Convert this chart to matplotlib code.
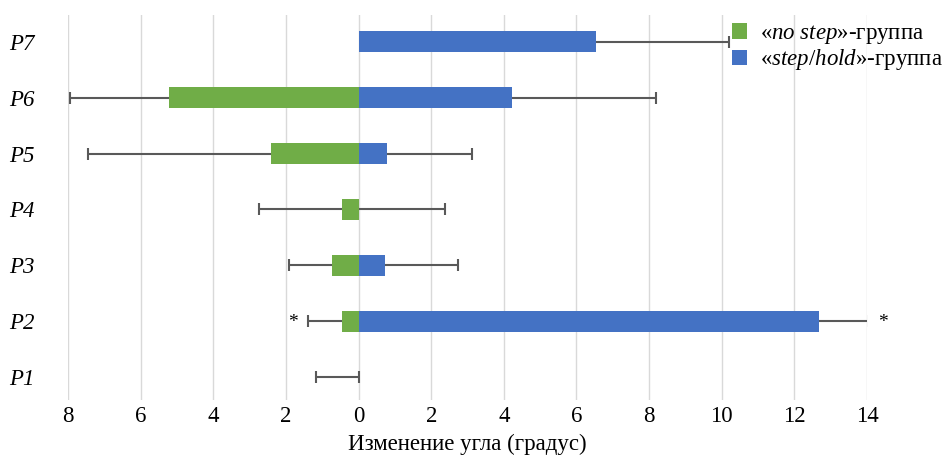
import matplotlib.pyplot as plt
import numpy as np

plt.rcParams['font.family'] = ['Liberation Serif', 'DejaVu Serif']
plt.rcParams['mathtext.fontset'] = 'custom'
plt.rcParams['mathtext.rm'] = 'Liberation Serif'
plt.rcParams['mathtext.it'] = 'Liberation Serif:italic'

# rows, bottom to top
labels = ['P1', 'P2', 'P3', 'P4', 'P5', 'P6', 'P7']

# "no step" group (drawn to the left), magnitude and error
no_step = [0.0, 0.46, 0.74, 0.45, 2.41, 5.23, 0.0]
no_step_err = [1.17, 0.94, 1.18, 2.28, 5.03, 2.71, np.nan]

# "step/hold" group (drawn to the right)
step_hold = [0.0, 12.67, 0.74, 0.0, 0.77, 4.22, 6.54]
step_hold_err = [0.0, 1.38, 1.99, 2.38, 2.34, 3.97, 3.67]

# significance marks: (row, x position)
stars = [(1, -1.8), (1, 14.45)]

ticks = [-8, -6, -4, -2, 0, 2, 4, 6, 8, 10, 12, 14]

green = '#70ad47'
blue = '#4472c4'
err_color = '#595959'

fig = plt.figure(figsize=(9.45, 4.67), dpi=100)
ax = fig.add_axes([0.072, 0.1435, 0.8455, 0.8245])

y = np.arange(len(labels))
neg = -np.array(no_step)
pos = np.array(step_hold)
neg_end = neg - np.array(no_step_err)
pos_end = pos + np.array(step_hold_err)

ax.barh(y, neg, height=0.38, color=green, zorder=3, label=r'«$\mathit{no\ step}$»-группа')
ax.barh(y, pos, height=0.38, color=blue, zorder=3, label=r'«$\mathit{step/hold}$»-группа')

# one sided error bars: line from bar end outwards, cap only at the outer end
ok = ~np.isnan(neg_end)
ax.hlines(y[ok], neg_end[ok], neg[ok], color=err_color, linewidth=1.5, zorder=2)
ax.plot(neg_end[ok], y[ok], linestyle='none', marker='|', markersize=8,
        markeredgewidth=1.5, color=err_color, zorder=2)
ax.hlines(y, pos, pos_end, color=err_color, linewidth=1.5, zorder=2)
ax.plot(pos_end, y, linestyle='none', marker='|', markersize=8,
        markeredgewidth=1.5, color=err_color, zorder=2)

for row, xs in stars:
    ax.text(xs, row - 0.02, '*', ha='center', va='center', fontsize=14, clip_on=False)

ax.set_xlim(-8, 14)
ax.set_ylim(-0.41, 6.48)
ax.set_xticks(ticks)
ax.set_xticklabels([str(abs(t)) for t in ticks], fontsize=16.5)
ax.set_yticks(y)
ax.set_yticklabels(labels, fontsize=16.5, style='italic')
ax.tick_params(length=0)
ax.tick_params(axis='y', pad=24)
ax.tick_params(axis='x', pad=4)
ax.xaxis.grid(True, color='#d9d9d9', linewidth=1, zorder=0)
ax.set_axisbelow(True)
for s in ax.spines.values():
    s.set_visible(False)

ax.set_xlabel('Изменение угла (градус)', fontsize=16.5, labelpad=5)

fig.legend(loc='upper right', bbox_to_anchor=(1.008, 0.97), frameon=False,
           fontsize=16.5, handlelength=0.65, handleheight=0.65, handletextpad=0.6,
           labelspacing=0.05, borderaxespad=0)

fig.savefig('out.png', dpi=100)
